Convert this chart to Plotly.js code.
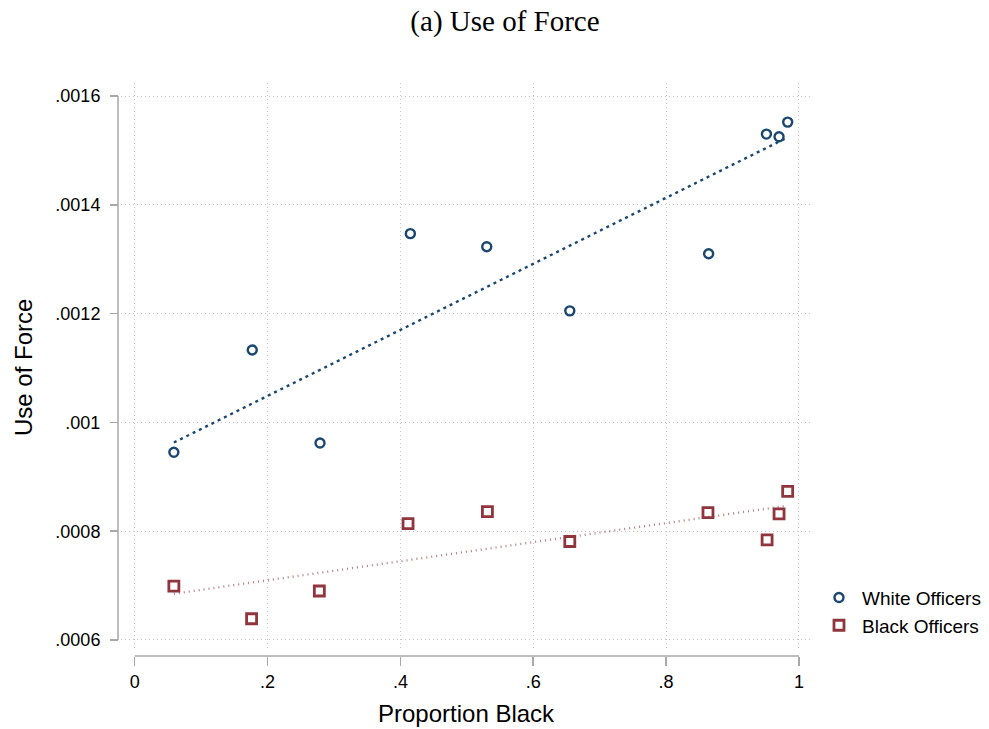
<!DOCTYPE html>
<html>
<head>
<meta charset="utf-8">
<script src="https://cdn.plot.ly/plotly-3.0.1.min.js"></script>
<style>html,body{margin:0;padding:0;background:#fff;}#chart{width:989px;height:729px;}</style>
</head>
<body>
<div id="chart"></div>
<script>
// Data
const whiteX = [0.059, 0.177, 0.279, 0.415, 0.530, 0.655, 0.864, 0.951, 0.970, 0.983];
const whiteY = [0.000945, 0.001133, 0.000962, 0.001347, 0.001323, 0.001205, 0.001310, 0.001530, 0.001525, 0.001552];
const blackX = [0.059, 0.176, 0.278, 0.4115, 0.531, 0.655, 0.863, 0.952, 0.970, 0.983];
const blackY = [0.000699, 0.000639, 0.000690, 0.000814, 0.000836, 0.000781, 0.000834, 0.000784, 0.000832, 0.000873];
const fitX = [0.059, 0.983];
const whiteFit = [0.000963, 0.001524];
const blackFit = [0.000685, 0.000847];
const xTickVals = [0, 0.2, 0.4, 0.6, 0.8, 1];
const xTickText = ['0', '.2', '.4', '.6', '.8', '1'];
const yTickVals = [0.0006, 0.0008, 0.0010, 0.0012, 0.0014, 0.0016];
const yTickText = ['.0006', '.0008', '.001', '.0012', '.0014', '.0016'];

const navy = '#1a476f';
const maroon = '#90353b';
const axisGray = '#a8a8a8';
const font = 'Liberation Sans, Arial, sans-serif';

const traces = [
  {x: fitX, y: whiteFit, type: 'scatter', mode: 'lines', showlegend: false,
   line: {color: navy, width: 2.4, dash: '3px,4px'}},
  {x: fitX, y: blackFit, type: 'scatter', mode: 'lines', showlegend: false,
   line: {color: 'rgba(144,53,59,0.65)', width: 2.4, dash: '1px,4px'}},
  {x: whiteX, y: whiteY, type: 'scatter', mode: 'markers', name: 'White Officers',
   marker: {symbol: 'circle-open', size: 9, color: navy, line: {color: navy, width: 2.4}}},
  {x: blackX, y: blackY, type: 'scatter', mode: 'markers', name: 'Black Officers',
   marker: {symbol: 'square-open', size: 10, color: maroon, line: {color: maroon, width: 2.8}}}
];

const layout = {
  width: 989, height: 729,
  margin: {l: 118, r: 178, t: 83, b: 73, pad: 0, autoexpand: false},
  paper_bgcolor: '#fff', plot_bgcolor: '#fff',
  hovermode: false,
  title: {text: '(a) Use of Force', font: {family: 'Liberation Serif, Times New Roman, serif', size: 29, color: '#000'},
          xref: 'container', x: 0.5106, xanchor: 'center', yref: 'container', y: 0.971, yanchor: 'middle'},
  xaxis: {
    domain: [0.0043, 1], range: [-0.0206, 1.0181], anchor: 'free', position: 0, automargin: false,
    tickmode: 'array', tickvals: xTickVals, ticktext: xTickText,
    ticks: 'outside', ticklen: 9, tickwidth: 1.5, tickcolor: axisGray,
    showline: false, zeroline: false,
    showgrid: true, gridcolor: '#c4c4c4', griddash: '1px,3px', gridwidth: 1,
    tickfont: {family: font, size: 18, color: '#000'}
  },
  yaxis: {
    domain: [0.014, 1], range: [0.0005853, 0.0016239], anchor: 'free', position: 0, automargin: false,
    tickmode: 'array', tickvals: yTickVals, ticktext: yTickText,
    ticks: 'outside', ticklen: 8, tickwidth: 1.5, tickcolor: axisGray, ticklabelstandoff: 6,
    showline: false, zeroline: false,
    showgrid: true, gridcolor: '#c4c4c4', griddash: '1px,3px', gridwidth: 1,
    tickfont: {family: font, size: 18, color: '#000'}
  },
  shapes: [
    {type: 'line', xref: 'x', yref: 'paper', x0: 0, x1: 1, y0: 0, y1: 0, line: {color: axisGray, width: 1.5}, layer: 'above'},
    {type: 'line', xref: 'paper', yref: 'y', x0: 0, x1: 0, y0: 0.0006, y1: 0.0016, line: {color: axisGray, width: 1.5}, layer: 'above'}
  ],
  annotations: [
    {text: 'Proportion Black', xref: 'x', x: 0.5, yref: 'paper', y: -0.1012, xanchor: 'center', yanchor: 'middle',
     showarrow: false, font: {family: font, size: 24, color: '#000'}},
    {text: 'Use of Force', xref: 'paper', x: -0.1356, yref: 'y', y: 0.0011, xanchor: 'center', yanchor: 'middle',
     textangle: -90, showarrow: false, font: {family: font, size: 24, color: '#000'}}
  ],
  legend: {
    xref: 'paper', x: 1.0072, xanchor: 'left', yref: 'paper', y: 0.0773, yanchor: 'middle',
    font: {family: font, size: 19, color: '#000'}, bgcolor: 'rgba(0,0,0,0)', borderwidth: 0,
    itemwidth: 36
  }
};

Plotly.newPlot('chart', traces, layout, {displayModeBar: false, staticPlot: true});
</script>
</body>
</html>
